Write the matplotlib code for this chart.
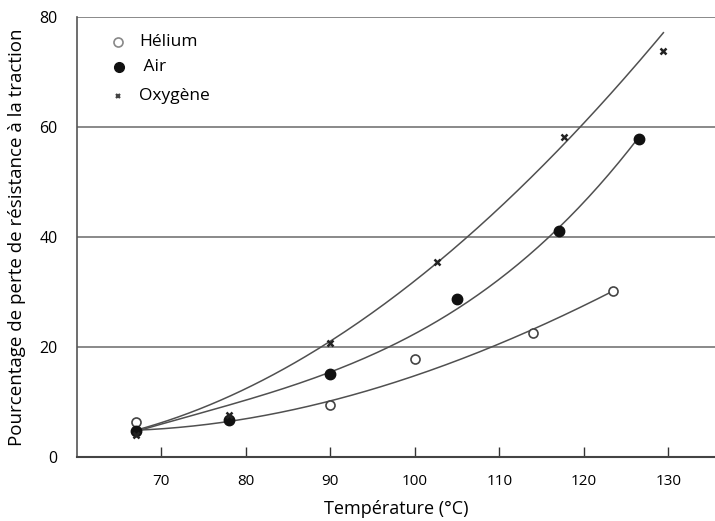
import numpy as np
import matplotlib
matplotlib.use('Agg')
import matplotlib.pyplot as plt

plt.rcParams['font.family'] = ['Open Sans', 'DejaVu Sans']

helium_x = [67, 90, 100, 114, 123.5]
helium_y = [6.4, 9.5, 17.8, 22.5, 30.2]
air_x = [67, 78, 90, 105, 117, 126.5]
air_y = [4.7, 6.7, 15.1, 28.7, 41.1, 57.8]
oxy_x = [67, 78, 90, 102.6, 117.6, 129.3]
oxy_y = [4.0, 7.6, 20.7, 35.4, 58.2, 73.8]

# courbes tracées à la main (valeurs lues le long de chaque courbe)
helium_curve_x = [67, 78, 90, 95.5, 100, 108.8, 113.9, 123.5]
helium_curve_y = [4.8, 6.6, 10.2, 12.2, 14.9, 20.0, 23.1, 30.2]
air_curve_x = [67, 78, 86.5, 90, 97.1, 104.8, 111.4, 116.7, 126.2]
air_curve_y = [4.8, 8.7, 14.0, 15.8, 20.0, 26.2, 34.4, 41.1, 57.6]
oxy_curve_x = [67, 78, 86.5, 90, 102.6, 107.6, 114.7, 120.2, 129.4]
oxy_curve_y = [4.8, 11.0, 18.2, 20.5, 35.4, 41.8, 52.2, 61.3, 77.1]

x_ticks = [70, 80, 90, 100, 110, 120, 130]
y_ticks = [0, 20, 40, 60, 80]

fig = plt.figure(figsize=(7.15, 5.21), dpi=100)
ax = fig.add_axes([0.108, 0.123, 0.892, 0.844])

line_col = '#505050'

def smooth(xs, ys):
    # lissage par polynôme cubique
    p = np.polyfit(xs, ys, 3)
    xf = np.linspace(min(xs), max(xs), 200)
    return xf, np.polyval(p, xf)

for cx, cy in [(helium_curve_x, helium_curve_y), (air_curve_x, air_curve_y), (oxy_curve_x, oxy_curve_y)]:
    xf, yf = smooth(cx, cy)
    ax.plot(xf, yf, color=line_col, lw=1.1, zorder=2)

ax.plot(helium_x, helium_y, 'o', ms=6.5, mfc='white', mec='#444444', mew=1.2, ls='none', zorder=3)
ax.plot(air_x, air_y, 'o', ms=7.5, mfc='#111111', mec='#111111', ls='none', zorder=3)
ax.plot(oxy_x, oxy_y, 'x', ms=4.5, mec='#222222', mew=1.8, ls='none', zorder=3)

# légende
ax.plot([64.9], [75.5], 'o', ms=6.5, mfc='white', mec='#888888', mew=1.2, clip_on=False)
ax.plot([65.0], [70.9], 'o', ms=7, mfc='#111111', mec='#111111', clip_on=False)
ax.plot([64.9], [65.6], 'x', ms=3.5, mec='#444444', mew=1.6, clip_on=False)
ax.text(67.4, 75.5, 'Hélium', fontsize=12.5, va='center')
ax.text(67.4, 70.9, ' Air', fontsize=12.5, va='center')
ax.text(67.4, 65.6, 'Oxygène', fontsize=12.5, va='center')

for yv in y_ticks[1:]:
    ax.axhline(yv, color='#6a6a6a', lw=1.1, zorder=1)

ax.set_xlim(60.1, 135.5)
ax.set_ylim(0, 80)
ax.set_xticks(x_ticks)
ax.set_yticks(y_ticks)
ax.tick_params(axis='x', direction='in', length=7, width=1, color='#333333', pad=12, labelsize=11)
ax.tick_params(axis='y', length=0, pad=14, labelsize=11.5)

for s in ['top', 'right']:
    ax.spines[s].set_visible(False)
ax.spines['left'].set_color('#555555')
ax.spines['bottom'].set_color('#444444')
ax.spines['left'].set_linewidth(1.2)
ax.spines['bottom'].set_linewidth(1.5)

ax.set_xlabel('Température (°C)', fontsize=13, labelpad=8)
ax.set_ylabel('Pourcentage de perte de résistance à la traction', fontsize=13.5, labelpad=10)

fig.savefig('out.png', dpi=100)
